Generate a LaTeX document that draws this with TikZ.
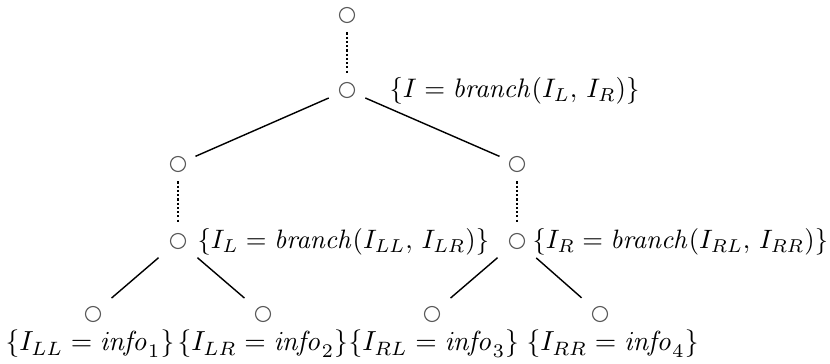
\documentclass[tikz,border=0pt]{standalone}
\begin{document}
\begin{tikzpicture}[x=0.3533pt,y=-0.3533pt,
  vtx/.style={circle,draw=black!65,line width=0.4pt,minimum size=5.3pt,inner sep=0pt},
  lbl/.style={inner sep=0pt,anchor=west},
  leaflbl/.style={inner sep=0pt,anchor=west},
  solidedge/.style={line width=0.5pt},
  dotedge/.style={line width=0.8pt,dash pattern=on 0.75pt off 0.75pt,shorten <=3.3pt,shorten >=3.3pt}]
\useasboundingbox (0,0) rectangle (830,364);
\node[vtx] (r) at (347,15) {};
\node[vtx] (a) at (347,90) {};
\node[vtx] (l) at (178,164) {};
\node[vtx] (rr) at (517,164) {};
\node[vtx] (l2) at (178,241) {};
\node[vtx] (r2) at (517,241) {};
\node[vtx] (ll) at (93,314) {};
\node[vtx] (lr) at (263,314) {};
\node[vtx] (rl) at (432,314) {};
\node[vtx] (rrr) at (600,314) {};
\node[lbl] (ta) at (389,91) {\resizebox{88.3pt}{!}{$\{I = \mathit{branch}(I_L,\, I_R)\}$}};
\node[lbl] (tl) at (197,242) {\resizebox{103pt}{!}{$\{I_L = \mathit{branch}(I_{LL},\, I_{LR})\}$}};
\node[lbl] (tr) at (532,242) {\resizebox{104.4pt}{!}{$\{I_R = \mathit{branch}(I_{RL},\, I_{RR})\}$}};
\node[leaflbl] (t1) at (5,344) {\scalebox{0.975}{$\{I_{LL} = \mathit{info}_1\}$}};
\node[leaflbl] (t2) at (177,344) {\scalebox{0.975}{$\{I_{LR} = \mathit{info}_2\}$}};
\node[leaflbl] (t3) at (348,344) {\scalebox{0.975}{$\{I_{RL} = \mathit{info}_3\}$}};
\node[leaflbl] (t4) at (526,344) {\scalebox{0.975}{$\{I_{RR} = \mathit{info}_4\}$}};
\draw[dotedge] (r) -- (a);
\draw[dotedge] (l) -- (l2);
\draw[dotedge] (rr) -- (r2);
\draw[solidedge,shorten <=4.2pt,shorten >=3.9pt] (a) -- (l);
\draw[solidedge,shorten <=4.2pt,shorten >=3.9pt] (a) -- (rr);
\draw[solidedge,shorten <=6.2pt,shorten >=5.8pt] (l2) -- (ll);
\draw[solidedge,shorten <=6.2pt,shorten >=5.8pt] (l2) -- (lr);
\draw[solidedge,shorten <=6.2pt,shorten >=5.8pt] (r2) -- (rl);
\draw[solidedge,shorten <=6.2pt,shorten >=5.8pt] (r2) -- (rrr);
\end{tikzpicture}
\end{document}
